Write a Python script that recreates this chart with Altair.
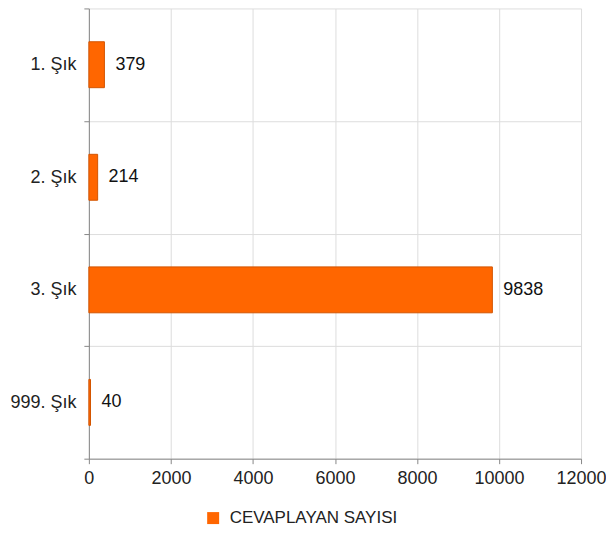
import altair as alt
import pandas as pd

categories = ["1. Şık", "2. Şık", "3. Şık", "999. Şık"]
values = [379, 214, 9838, 40]
series_name = "CEVAPLAYAN SAYISI"
x_ticks = [0, 2000, 4000, 6000, 8000, 10000, 12000]

df = pd.DataFrame({"cat": categories, "val": values, "series": [series_name] * len(values)})

FONT = "Liberation Sans"
ORANGE = "#ff6600"

base = alt.Chart(df).encode(
    y=alt.Y(
        "cat:N",
        sort=categories,
        title=None,
        scale=alt.Scale(paddingInner=0, paddingOuter=0),
        axis=alt.Axis(
            tickBand="extent",
            labelFont=FONT,
            labelFontSize=18,
            labelColor="#222222",
            labelPadding=8,
            tickSize=5,
            tickColor="#888888",
            domainColor="#888888",
            gridColor="#dddddd",
            grid=True,
        ),
    ),
    x=alt.X(
        "val:Q",
        title=None,
        scale=alt.Scale(domain=[0, 12000], nice=False),
        axis=alt.Axis(
            values=x_ticks,
            labelFont=FONT,
            labelFontSize=18,
            labelColor="#222222",
            labelPadding=6,
            tickSize=5,
            tickColor="#888888",
            domainColor="#888888",
            gridColor="#dddddd",
            grid=True,
            labelFlush=False,
            format="d",
        ),
    ),
)

bars = base.mark_bar(stroke="#d35400", strokeWidth=1, size=46).encode(
    color=alt.Color(
        "series:N",
        scale=alt.Scale(domain=[series_name], range=[ORANGE]),
        legend=alt.Legend(
            title=None,
            orient="none",
            legendX=116,
            legendY=502,
            symbolType="square",
            symbolSize=144,
            symbolStrokeWidth=0,
            labelFont=FONT,
            labelFontSize=17,
            labelColor="#222222",
            labelOffset=8,
            labelLimit=0,
        ),
    )
)

labels = base.mark_text(
    align="left", baseline="middle", dx=11, font=FONT, fontSize=18, color="#111111"
).encode(text="val:Q")

chart = (
    (bars + labels)
    .properties(width=493, height=451, padding={"left": 1, "top": -9, "right": -1, "bottom": 0})
    .configure_view(stroke=None)
)

chart.save("out.html", embed_options={"renderer": "svg", "actions": False})
